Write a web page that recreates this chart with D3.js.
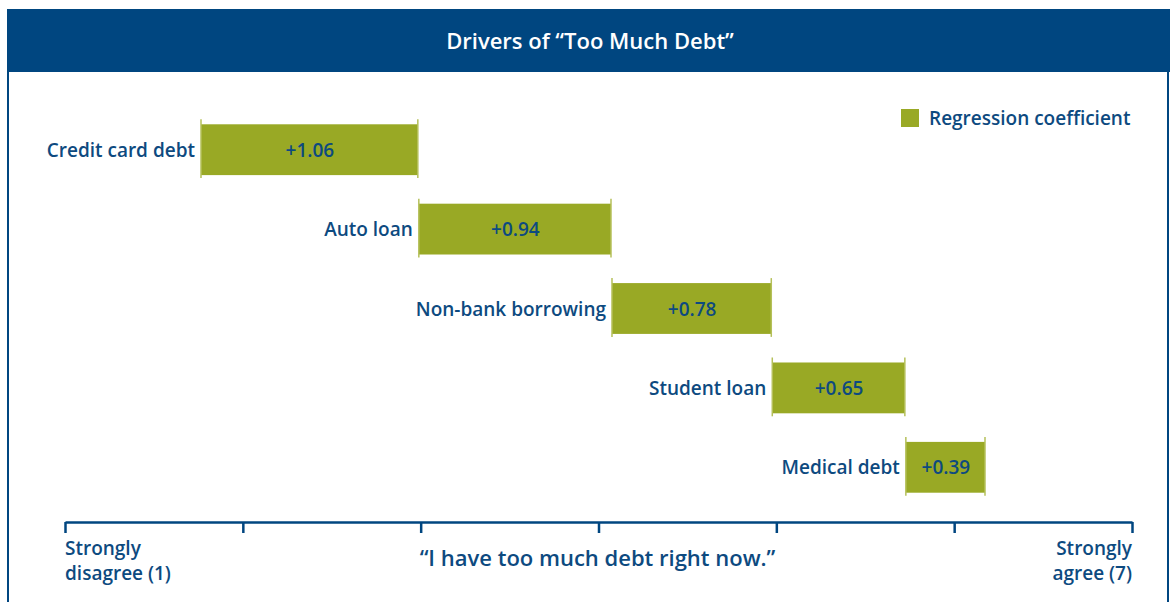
<!DOCTYPE html>
<html>
<head>
<meta charset="utf-8">
<script src="https://cdn.jsdelivr.net/npm/d3@7"></script>
<style>
  html, body { margin: 0; padding: 0; background: #fff; }
  svg { display: block; }
  text { font-family: "Open Sans", "Noto Sans", sans-serif; }
</style>
</head>
<body>
<svg id="chart" width="1170" height="602"></svg>
<script>
// Debt types and their regression coefficients on agreement with the statement
const categories = ["Credit card debt", "Auto loan", "Non-bank borrowing", "Student loan", "Medical debt"];
const coefficients = [1.06, 0.94, 0.78, 0.65, 0.39];
const valueLabels = ["+1.06", "+0.94", "+0.78", "+0.65", "+0.39"];
const scaleTicks = [1, 2, 3, 4, 5, 6, 7];
const scaleEndLabels = [["Strongly", "disagree (1)"], ["Strongly", "agree (7)"]];

const W = 1170, H = 602;
const BLUE = "#004680";
const TEXT = "#0d4a80";
const GREEN = "#99a925";
const GREEN_EDGE = "#b5c05a";

const svg = d3.select("#chart");

// Frame and title bar
svg.append("rect").attr("x", 8).attr("y", 60).attr("width", 1160).attr("height", 560)
  .attr("fill", "#fff").attr("stroke", BLUE).attr("stroke-width", 2);
svg.append("rect").attr("x", 7).attr("y", 9).attr("width", 1163).attr("height", 63).attr("fill", BLUE);
svg.append("text").attr("x", 590).attr("y", 49).attr("text-anchor", "middle")
  .attr("fill", "#fff").attr("font-size", 22).attr("font-weight", 600)
  .text("Drivers of \u201CToo Much Debt\u201D");

// Agreement scale (1–7) along the bottom
const xAxis = d3.scaleLinear().domain([1, 7]).range([65, 1132]);
const axisY = 522;
const axisG = svg.append("g").attr("transform", `translate(0,${axisY})`)
  .call(d3.axisBottom(xAxis).tickValues(scaleTicks).tickSize(11).tickSizeOuter(0).tickFormat(""));
axisG.select(".domain").attr("stroke", BLUE).attr("stroke-width", 2.5);
axisG.selectAll(".tick line").attr("stroke", BLUE).attr("stroke-width", 2.5);

// Waterfall: each coefficient stacks on the previous one
const cumEnd = d3.cumsum(coefficients);
const total = cumEnd[cumEnd.length - 1];
const xBar = d3.scaleLinear().domain([0, total]).range([200, 985]);
const y = d3.scaleBand().domain(categories).range([110, 507]).paddingInner(0.36).paddingOuter(0.18);

const rows = categories.map((c, i) => ({
  cat: c, value: coefficients[i], label: valueLabels[i],
  start: cumEnd[i] - coefficients[i], end: cumEnd[i]
}));

const g = svg.append("g");
const row = g.selectAll("g.row").data(rows).join("g").attr("class", "row");

row.append("rect")
  .attr("x", d => xBar(d.start) + 1)
  .attr("y", d => y(d.cat))
  .attr("width", d => xBar(d.end) - xBar(d.start) - 1)
  .attr("height", y.bandwidth())
  .attr("fill", GREEN);

// thin end caps extending a little beyond each bar
row.each(function(d) {
  const sel = d3.select(this);
  [xBar(d.start) + 1, xBar(d.end)].forEach(px => {
    sel.append("line")
      .attr("x1", px).attr("x2", px)
      .attr("y1", y(d.cat) - 5).attr("y2", y(d.cat) + y.bandwidth() + 3)
      .attr("stroke", GREEN_EDGE).attr("stroke-width", 1.5);
  });
});

row.append("text")
  .attr("x", d => (xBar(d.start) + xBar(d.end)) / 2 + 1)
  .attr("y", d => y(d.cat) + y.bandwidth() / 2 + 7)
  .attr("text-anchor", "middle")
  .attr("fill", TEXT).attr("font-size", 19).attr("font-weight", 600)
  .text(d => d.label);

row.append("text")
  .attr("x", d => xBar(d.start) - 5)
  .attr("y", d => y(d.cat) + y.bandwidth() / 2 + 7)
  .attr("text-anchor", "end")
  .attr("fill", TEXT).attr("font-size", 19).attr("font-weight", 600)
  .text(d => d.cat);

// Legend
svg.append("rect").attr("x", 901).attr("y", 109).attr("width", 18).attr("height", 18).attr("fill", GREEN);
svg.append("text").attr("x", 929).attr("y", 125).attr("fill", TEXT)
  .attr("font-size", 19).attr("font-weight", 600).text("Regression coefficient");

// Axis captions
const leftCap = svg.append("text").attr("x", xAxis(1)).attr("fill", TEXT)
  .attr("font-size", 19).attr("font-weight", 600).attr("text-anchor", "start");
scaleEndLabels[0].forEach((t, i) => leftCap.append("tspan").attr("x", xAxis(1)).attr("y", 555 + i * 25).text(t));
const rightCap = svg.append("text").attr("x", xAxis(7)).attr("fill", TEXT)
  .attr("font-size", 19).attr("font-weight", 600).attr("text-anchor", "end");
scaleEndLabels[1].forEach((t, i) => rightCap.append("tspan").attr("x", xAxis(7)).attr("y", 555 + i * 25).text(t));

svg.append("text").attr("x", xAxis(4) - 1).attr("y", 566).attr("text-anchor", "middle")
  .attr("fill", TEXT).attr("font-size", 22).attr("font-weight", 600)
  .text("\u201CI have too much debt right now.\u201D");
</script>
</body>
</html>
